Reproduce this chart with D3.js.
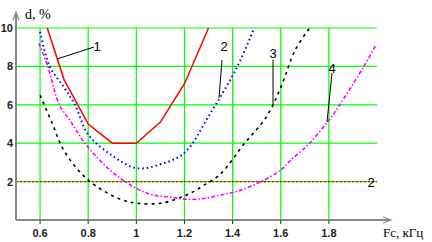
<!DOCTYPE html>
<html>
<head>
<meta charset="utf-8">
<script src="https://cdn.jsdelivr.net/npm/d3@7"></script>
<style>
  body { margin: 0; background: #fff; }
  svg { display: block; }
</style>
</head>
<body>
<div id="chart"></div>
<script>
// curve values
const curve1 = [[0.63, 10], [0.7, 7.3], [0.8, 5.0], [0.9, 4.0], [1.0, 4.0], [1.1, 5.1], [1.2, 7.1], [1.3, 10]]
const curve2 = [[0.6, 9.8], [0.64, 8.0], [0.7, 6.9], [0.745, 6.0], [0.8, 4.45], [0.9, 3.35], [1.0, 2.7], [1.1, 2.9], [1.2, 3.5], [1.3, 5.4], [1.42, 8.0], [1.49, 10]]
const curve3 = [[0.6, 6.5], [0.65, 5.05], [0.7, 3.6], [0.8, 2.08], [0.93, 1.1], [1.0, 0.88], [1.1, 0.87], [1.2, 1.25], [1.28, 1.8], [1.35, 2.4], [1.45, 4.0], [1.54, 5.36], [1.6, 6.9], [1.66, 8.85], [1.72, 10]]
const curve4 = [[0.595, 9.2], [0.632, 8.0], [0.68, 6.0], [0.724, 5.2], [0.786, 4.0], [0.9, 2.5], [1.0, 1.65], [1.07, 1.3], [1.14, 1.2], [1.21, 1.08], [1.28, 1.12], [1.35, 1.3], [1.42, 1.5], [1.51, 1.95], [1.6, 2.6], [1.64, 3.1], [1.72, 4.0], [1.8, 5.2], [1.84, 5.9], [1.945, 8.0], [1.995, 9.1]]
const limitLevel = 2
const xTicks = [0.6, 0.8, 1, 1.2, 1.4, 1.6, 1.8]
const yTicks = [2, 4, 6, 8, 10]
const curveNames = ['1', '2', '3', '4']

const width = 432
const height = 242

const svg = d3.select('#chart').append('svg')
    .attr('width', width)
    .attr('height', height)

const x = d3.scaleLinear().domain([0.5, 2.0]).range([16, 377])
const y = d3.scaleLinear().domain([0, 10]).range([220, 28])

// grid
svg.selectAll('.vgrid')
  .data(xTicks)
  .join('line')
  .attr('x1', d => x(d)).attr('x2', d => x(d))
  .attr('y1', y(0)).attr('y2', y(10))
  .attr('stroke', '#00ff00')
  .attr('stroke-width', 1.2)

svg.selectAll('.hgrid')
  .data(yTicks)
  .join('line')
  .attr('x1', x(0.5)).attr('x2', x(2.0))
  .attr('y1', d => y(d)).attr('y2', d => y(d))
  .attr('stroke', '#00ff00')
  .attr('stroke-width', 1.2)

// the 2% level, red dashes on the green line
svg.append('line')
  .attr('x1', x(0.5)).attr('x2', x(2.0))
  .attr('y1', y(limitLevel)).attr('y2', y(limitLevel))
  .attr('stroke', '#ff0000')
  .attr('stroke-width', 1.2)
  .attr('stroke-dasharray', '2,2')

// axes
const axisColor = '#888'
svg.append('line')
  .attr('x1', x(0.5)).attr('x2', 390)
  .attr('y1', y(0)).attr('y2', y(0))
  .attr('stroke', axisColor).attr('stroke-width', 2)
svg.append('path')
  .attr('d', 'M383,217 L391,220 L383,223')
  .attr('fill', 'none').attr('stroke', axisColor).attr('stroke-width', 1.2)

svg.append('line')
  .attr('x1', x(0.5)).attr('x2', x(0.5))
  .attr('y1', y(0)).attr('y2', 13)
  .attr('stroke', axisColor).attr('stroke-width', 2)
svg.append('path')
  .attr('d', 'M13,20 L16,12 L19,20')
  .attr('fill', 'none').attr('stroke', axisColor).attr('stroke-width', 1.2)

// ticks and labels
svg.selectAll('.xtick')
  .data(xTicks)
  .join('line')
  .attr('x1', d => x(d)).attr('x2', d => x(d))
  .attr('y1', y(0)).attr('y2', y(0) + 4)
  .attr('stroke', '#333')

svg.selectAll('.xlabel')
  .data(xTicks)
  .join('text')
  .attr('x', d => x(d))
  .attr('y', 237)
  .attr('text-anchor', 'middle')
  .attr('font-family', 'Liberation Sans, Arial, sans-serif')
  .attr('font-size', 11)
  .attr('font-weight', 'bold')
  .attr('fill', '#222')
  .text(d => d)

svg.selectAll('.ylabel')
  .data(yTicks)
  .join('text')
  .attr('x', 13)
  .attr('y', d => y(d) + 4)
  .attr('text-anchor', 'end')
  .attr('font-family', 'Liberation Sans, Arial, sans-serif')
  .attr('font-size', 11)
  .attr('font-weight', 'bold')
  .attr('fill', '#222')
  .text(d => d)

svg.append('text')
  .attr('x', 25).attr('y', 19)
  .attr('font-family', 'Liberation Serif, Times New Roman, serif')
  .attr('font-size', 14)
  .text('d, %')

svg.append('text')
  .attr('x', 383).attr('y', 237)
  .attr('font-family', 'Liberation Serif, Times New Roman, serif')
  .attr('font-size', 13)
  .text('Fc, кГц')

// curves
const line = d3.line().x(d => x(d[0])).y(d => y(d[1]))
const smooth = d3.line().x(d => x(d[0])).y(d => y(d[1])).curve(d3.curveCatmullRom)

svg.append('path').datum(curve1)
  .attr('d', line)
  .attr('fill', 'none').attr('stroke', '#ff0000').attr('stroke-width', 1.5)

svg.append('path').datum(curve2)
  .attr('d', smooth)
  .attr('fill', 'none').attr('stroke', '#0000ff').attr('stroke-width', 2)
  .attr('stroke-dasharray', '1.5,3')

svg.append('path').datum(curve3)
  .attr('d', smooth)
  .attr('fill', 'none').attr('stroke', '#000').attr('stroke-width', 1.6)
  .attr('stroke-dasharray', '3,4')

svg.append('path').datum(curve4)
  .attr('d', smooth)
  .attr('fill', 'none').attr('stroke', '#ff00ff').attr('stroke-width', 1.6)
  .attr('stroke-dasharray', '4,2,1.5,2')

// callouts
const callouts = [
  { name: curveNames[0], from: [57, 59], to: [94, 47], tx: 97, ty: 51 },
  { name: curveNames[1], from: [219, 98], to: [222, 60], tx: 224, ty: 51 },
  { name: curveNames[2], from: [273, 105], to: [273, 60], tx: 273, ty: 58 },
  { name: curveNames[3], from: [327, 122], to: [332, 73], tx: 332, ty: 73 }
]

svg.selectAll('.leader')
  .data(callouts)
  .join('line')
  .attr('x1', d => d.from[0]).attr('y1', d => d.from[1])
  .attr('x2', d => d.to[0]).attr('y2', d => d.to[1])
  .attr('stroke', '#000').attr('stroke-width', 1)

svg.selectAll('.callout')
  .data(callouts)
  .join('text')
  .attr('x', d => d.tx).attr('y', d => d.ty)
  .attr('text-anchor', 'middle')
  .attr('font-family', 'Liberation Sans, Arial, sans-serif')
  .attr('font-size', 13)
  .text(d => d.name)

svg.append('text')
  .attr('x', 371).attr('y', y(limitLevel) + 5)
  .attr('text-anchor', 'middle')
  .attr('font-family', 'Liberation Sans, Arial, sans-serif')
  .attr('font-size', 13)
  .text('2')
</script>
</body>
</html>
